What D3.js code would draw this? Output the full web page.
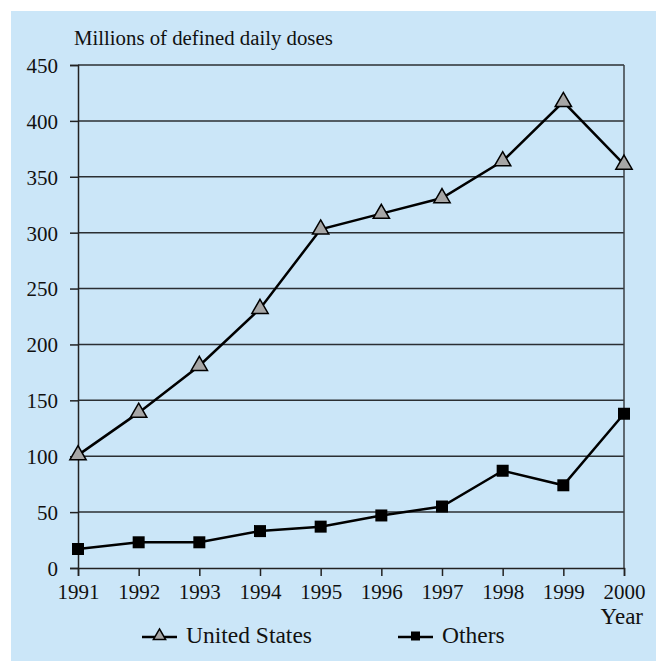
<!DOCTYPE html>
<html><head><meta charset="utf-8">
<script src="https://cdn.jsdelivr.net/npm/d3@7"></script>
<style>
html,body{margin:0;padding:0;background:#fff;}
svg text{font-family:'Liberation Serif', Tinos, 'Times New Roman', Times, serif !important;fill:#111;}
</style></head>
<body>
<svg id="chart" width="656" height="661"></svg>
<script>
const years = [1991,1992,1993,1994,1995,1996,1997,1998,1999,2000];
const unitedStates = [101,139,181,232,303,317,331,364,417,361];
const others = [17,23,23,33,37,47,55,87,74,138];
const yTicks = [0,50,100,150,200,250,300,350,400,450];
const seriesNames = ["United States","Others"];
const yTitle = "Millions of defined daily doses";
const xTitle = "Year";

(function(){
const svg = d3.select("#chart");
svg.append("rect").attr("x",11).attr("y",11).attr("width",645).attr("height",650).attr("fill","#CBE6F8");

const mL=78, mR=624, mT=65, mB=568;
const x = d3.scaleLinear().domain([1991,2000]).range([mL,mR]);
const y = d3.scaleLinear().domain([0,450]).range([mB,mT]);

svg.append("g").selectAll("line").data(yTicks.filter(d=>d>0)).join("line")
  .attr("x1",mL).attr("x2",mR).attr("y1",d=>y(d)).attr("y2",d=>y(d))
  .attr("stroke","#2b2f33").attr("stroke-width",1.5);
svg.append("line").attr("x1",mR).attr("x2",mR).attr("y1",mT).attr("y2",mB)
  .attr("stroke","#3a3f44").attr("stroke-width",1.5);

const yAxis = d3.axisLeft(y).tickValues(yTicks).tickSize(8).tickPadding(12).tickFormat(d3.format("d"));
const gy = svg.append("g").attr("transform",`translate(${mL},0)`).call(yAxis);
gy.attr("font-family",null);
gy.select(".domain").attr("stroke","#222").attr("stroke-width",1.5);
gy.selectAll(".tick line").attr("stroke","#222").attr("stroke-width",1.5);
gy.selectAll("text").attr("font-size",21).attr("fill","#111").attr("dy","0.35em");

const xAxis = d3.axisBottom(x).tickValues(years).tickSize(8).tickPadding(8).tickFormat(d3.format("d"));
const gx = svg.append("g").attr("transform",`translate(0,${mB})`).call(xAxis);
gx.attr("font-family",null);
gx.select(".domain").attr("stroke","#222").attr("stroke-width",1.5);
gx.selectAll(".tick line").attr("stroke","#222").attr("stroke-width",1.5);
gx.selectAll("text").attr("font-size",21).attr("fill","#111");

svg.append("text").attr("x",74).attr("y",45).attr("font-size",20.8).text(yTitle);
svg.append("text").attr("x",643).attr("y",624).attr("text-anchor","end").attr("font-size",23).text(xTitle);

const line = d3.line().x((d,i)=>x(years[i])).y(d=>y(d));
svg.append("path").datum(unitedStates).attr("d",line).attr("fill","none").attr("stroke","#000").attr("stroke-width",2.5);
svg.append("path").datum(others).attr("d",line).attr("fill","none").attr("stroke","#000").attr("stroke-width",2.5);

const tri = d3.symbol().type(d3.symbolTriangle).size(115);
svg.append("g").selectAll("path").data(unitedStates).join("path")
  .attr("transform",(d,i)=>`translate(${x(years[i])},${y(d)})`)
  .attr("d",tri).attr("fill","#A6A6A6").attr("stroke","#000").attr("stroke-width",1.5);
const sq = d3.symbol().type(d3.symbolSquare).size(144);
svg.append("g").selectAll("path").data(others).join("path")
  .attr("transform",(d,i)=>`translate(${x(years[i])},${y(d)})`)
  .attr("d",sq).attr("fill","#000");

const ly = 637;
const triL = d3.symbol().type(d3.symbolTriangle).size(65);
const sqL = d3.symbol().type(d3.symbolSquare).size(81);
const leg = [{name:seriesNames[0],x0:142,sym:triL,fill:"#A6A6A6",stroke:"#000"},
             {name:seriesNames[1],x0:398,sym:sqL,fill:"#000",stroke:"none"}];
leg.forEach(l=>{
  svg.append("line").attr("x1",l.x0).attr("x2",l.x0+35).attr("y1",ly).attr("y2",ly).attr("stroke","#000").attr("stroke-width",2.5);
  svg.append("path").attr("transform",`translate(${l.x0+17.5},${ly-1})`).attr("d",l.sym)
    .attr("fill",l.fill).attr("stroke",l.stroke).attr("stroke-width",1.5);
  svg.append("text").attr("x",l.x0+44).attr("y",ly+6).attr("font-size",23.5).text(l.name);
});
})();
</script>
</body></html>
